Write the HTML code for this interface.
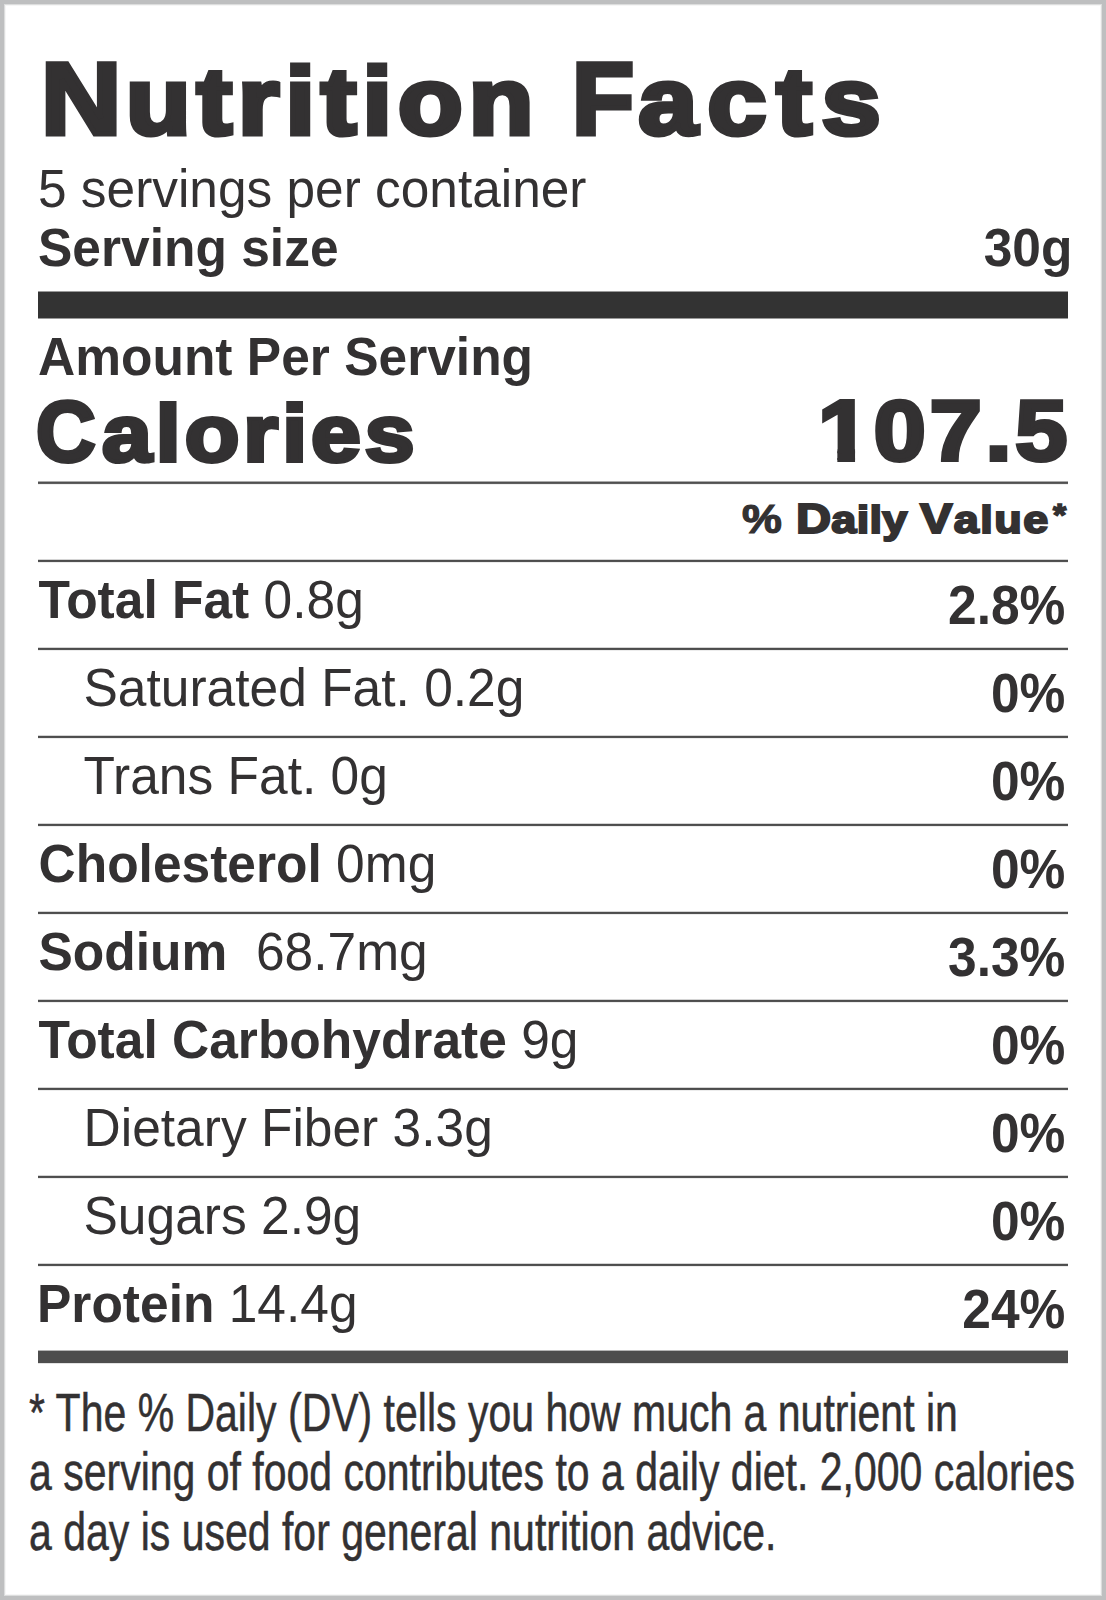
<!DOCTYPE html>
<html lang="en"><head><meta charset="utf-8"><title>Nutrition Facts</title>
<style>
html,body{margin:0;padding:0;background:#fff;}
body{width:1106px;height:1600px;position:relative;overflow:hidden;font-family:"Liberation Sans",sans-serif;color:#333132;}
.frame{position:absolute;left:0;top:0;right:0;bottom:0;box-sizing:border-box;border:4px solid #bebfc0;}
.frame:before{content:"";position:absolute;left:0;top:0;right:0;bottom:0;border:1px solid #dcdddd;}
.frame:after{content:"";position:absolute;left:1px;top:1px;right:1px;bottom:1px;border:1px solid #f6f6f6;}
.t{position:absolute;white-space:nowrap;line-height:1;margin:0;padding:0;}
.l{transform-origin:0 84.65%;}
.r{transform-origin:100% 84.65%;}
.bar{position:absolute;left:38px;width:1030px;background:#333132;}
.rule{height:4px;background:linear-gradient(#d4d4d4 0,#d4d4d4 25%,#4c4c4c 25%,#4c4c4c 50%,#525252 50%,#525252 75%,#ececec 75%,#ececec 100%);}
.rule2{height:4px;background:linear-gradient(#ababab 0,#ababab 25%,#505050 25%,#505050 50%,#5e5e5e 50%,#5e5e5e 75%,#f0f0f0 75%,#f0f0f0 100%);}
.one{display:inline-block;clip-path:polygon(-5px -5px,85.0px -5px,85.0px 61.0px,33.7px 61.0px,33.7px 85.0px,17.6px 85.0px,17.6px 61.0px,-5px 61.0px);}
.c1,.c1f,.c2,.c3p{display:inline-block;transform-origin:0 50%;}
.c1{font-size:109%;transform:scaleX(.965);margin-right:-4px;}
.c1f{font-size:109%;transform:scaleX(.88);margin-right:-12.4px;}
.c2{font-size:106%;transform:scaleX(.87);margin-right:-5.8px;}
.c3{font-size:108%;}
.c3p{font-size:108%;transform:scaleX(.9);transform-origin:100% 50%;}
b{font-weight:700;}
</style></head><body>
<div class="frame"></div>
<div class="t l" style="left:40.5px;top:47.57px;font-size:94px;font-weight:700;transform:scale(1.125,1);-webkit-text-stroke:5.0px #333132;letter-spacing:5.5px;"><span class="c1">N</span>utrition</div>
<div class="t l" style="left:571.5px;top:47.57px;font-size:94px;font-weight:700;transform:scale(1.125,1);-webkit-text-stroke:5.0px #333132;letter-spacing:9px;"><span class="c1f">F</span>acts</div>
<div class="t l" style="left:38px;top:164.09px;font-size:51.4px;font-weight:400;transform:scale(1.0,1.035);">5 servings per container</div>
<div class="t l" style="left:38px;top:223.41px;font-size:51.5px;font-weight:700;transform:scale(1.0,1.035);">Serving size</div>
<div class="t r" style="right:33.6px;top:223.41px;font-size:51.5px;font-weight:700;transform:scale(1.0,1.035);">30g</div>
<div class="t l" style="left:38px;top:331.61px;font-size:51.5px;font-weight:700;transform:scale(1.0,1.035);">Amount Per Serving</div>
<div class="t l" style="left:36.2px;top:390.02px;font-size:80px;font-weight:700;transform:scale(1.118,1);-webkit-text-stroke:4px #333132;letter-spacing:3.6px;"><span class="c2">C</span>alories</div>
<div class="t r" style="right:34.6px;top:387.95px;font-size:85px;font-weight:700;transform:scale(1.1,1);-webkit-text-stroke:4px #333132;letter-spacing:3.5px;"><span class="one">1</span>07.5</div>
<div class="t l" style="left:741.5px;top:497.77px;font-size:41.5px;font-weight:700;transform:scale(1.08,1);-webkit-text-stroke:1.2px #333132;">%</div>
<div class="t l" style="left:796px;top:497.70px;font-size:38.5px;font-weight:700;transform:scale(1.17,1);-webkit-text-stroke:2px #333132;letter-spacing:0.2px;"><span class="c3">D</span>aily</div>
<div class="t l" style="left:920px;top:497.70px;font-size:38.5px;font-weight:700;transform:scale(1.17,1);-webkit-text-stroke:2px #333132;letter-spacing:1.2px;"><span class="c3">V</span>alue</div>
<div class="t l" style="left:1052.5px;top:499.76px;font-size:31px;font-weight:700;transform:scale(1.1,1);-webkit-text-stroke:1.5px #333132;">*</div>
<div class="bar" style="top:291px;height:28px;background:linear-gradient(#999 0,#999 1px,#333 1px,#333 27px,#999 27px,#999 28px);"></div>
<div class="bar rule2" style="top:481px;"></div>
<div class="bar rule" style="top:559px;"></div>
<div class="t l" style="left:38.5px;top:575.01px;font-size:51.5px;font-weight:400;transform:scale(1.0,1.035);"><b>Total Fat</b> 0.8g</div>
<div class="t r" style="right:40.6px;top:581.01px;font-size:51.5px;font-weight:700;transform:scale(1.0,1.08);">2.8%</div>
<div class="bar rule" style="top:647px;"></div>
<div class="t l" style="left:83.5px;top:663.01px;font-size:51.5px;font-weight:400;transform:scale(1.0,1.035);">Saturated Fat. 0.2g</div>
<div class="t r" style="right:40.6px;top:669.01px;font-size:51.5px;font-weight:700;transform:scale(1.0,1.08);">0%</div>
<div class="bar rule" style="top:735px;"></div>
<div class="t l" style="left:83.5px;top:751.01px;font-size:51.5px;font-weight:400;transform:scale(1.0,1.035);">Trans Fat. 0g</div>
<div class="t r" style="right:40.6px;top:757.01px;font-size:51.5px;font-weight:700;transform:scale(1.0,1.08);">0%</div>
<div class="bar rule" style="top:823px;"></div>
<div class="t l" style="left:38.5px;top:839.01px;font-size:51.5px;font-weight:400;transform:scale(1.0,1.035);"><b>Cholesterol</b> 0mg</div>
<div class="t r" style="right:40.6px;top:845.01px;font-size:51.5px;font-weight:700;transform:scale(1.0,1.08);">0%</div>
<div class="bar rule" style="top:911px;"></div>
<div class="t l" style="left:38.5px;top:927.01px;font-size:51.5px;font-weight:400;transform:scale(1.0,1.035);"><b>Sodium</b> &nbsp;68.7mg</div>
<div class="t r" style="right:40.6px;top:933.01px;font-size:51.5px;font-weight:700;transform:scale(1.0,1.08);">3.3%</div>
<div class="bar rule" style="top:999px;"></div>
<div class="t l" style="left:38.5px;top:1015.01px;font-size:51.5px;font-weight:400;transform:scale(1.0,1.035);"><b>Total Carbohydrate</b> 9g</div>
<div class="t r" style="right:40.6px;top:1021.01px;font-size:51.5px;font-weight:700;transform:scale(1.0,1.08);">0%</div>
<div class="bar rule" style="top:1087px;"></div>
<div class="t l" style="left:83.5px;top:1103.01px;font-size:51.5px;font-weight:400;transform:scale(1.0,1.035);">Dietary Fiber 3.3g</div>
<div class="t r" style="right:40.6px;top:1109.01px;font-size:51.5px;font-weight:700;transform:scale(1.0,1.08);">0%</div>
<div class="bar rule" style="top:1175px;"></div>
<div class="t l" style="left:83.5px;top:1191.01px;font-size:51.5px;font-weight:400;transform:scale(1.0,1.035);">Sugars 2.9g</div>
<div class="t r" style="right:40.6px;top:1197.01px;font-size:51.5px;font-weight:700;transform:scale(1.0,1.08);">0%</div>
<div class="bar rule" style="top:1263px;"></div>
<div class="t l" style="left:37.0px;top:1279.01px;font-size:51.5px;font-weight:400;transform:scale(1.0,1.035);"><b>Protein</b> 14.4g</div>
<div class="t r" style="right:40.6px;top:1285.01px;font-size:51.5px;font-weight:700;transform:scale(1.0,1.08);">24%</div>
<div class="bar" style="top:1350px;height:14px;background:linear-gradient(#b5b5b5 0,#b5b5b5 1px,#4d4d4d 1px,#4d4d4d 13px,#e2e2e2 13px,#e2e2e2 14px);"></div>
<div class="t l" style="left:29px;top:1387.51px;font-size:51.5px;font-weight:400;transform:scale(0.796,1.035);-webkit-text-stroke:0.5px #333132;">* The % Daily (DV) tells you how much a nutrient in</div>
<div class="t l" style="left:29px;top:1446.61px;font-size:51.5px;font-weight:400;transform:scale(0.796,1.035);-webkit-text-stroke:0.5px #333132;">a serving of food contributes to a daily diet. 2,000 calories</div>
<div class="t l" style="left:29px;top:1506.51px;font-size:51.5px;font-weight:400;transform:scale(0.796,1.035);-webkit-text-stroke:0.5px #333132;">a day is used for general nutrition advice.</div>
</body></html>
